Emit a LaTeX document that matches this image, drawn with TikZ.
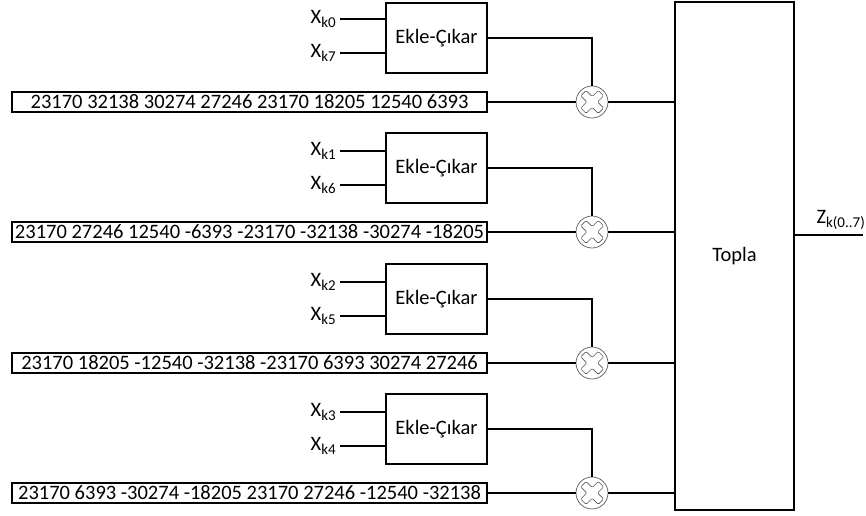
\documentclass[tikz,border=0pt]{standalone}
\usepackage{fontspec}
\setmainfont{Carlito}
\usepackage{tikz}
\usetikzlibrary{positioning, calc}
\newcommand{\blokfont}{\fontsize{20.5}{24}\selectfont}
\newcommand{\altind}[1]{\raisebox{-0.45ex}{\fontsize{15}{17}\selectfont #1}}

\begin{document}
\begin{tikzpicture}[
      x=1pt, y=-1pt,
      ekle/.style={draw, line width=1.3pt, minimum width=101pt, minimum height=70pt, inner sep=0pt, font=\blokfont},
      dizi/.style={draw, line width=1.3pt, minimum width=475pt, minimum height=20pt, inner sep=0pt, font=\blokfont},
      carp/.style={circle, draw=black!65, line width=0.7pt, minimum size=32pt, inner sep=0pt,
        path picture={\draw[black!65, line width=0.6pt, rounded corners=1.2pt]
          (path picture bounding box.center) ++(117.4:12.8) -- ++(-45:8.6) -- ++(45:8.6) -- ++(-45:7.6)
          -- ++(225:8.6) -- ++(-45:8.6) -- ++(225:7.6) -- ++(135:8.6) -- ++(225:8.6) -- ++(135:7.6)
          -- ++(45:8.6) -- ++(135:8.6) -- cycle;}},
      girdi/.style={anchor=east, inner ysep=1pt, inner xsep=4pt, font=\blokfont},
      tel/.style={line width=1.3pt},
    ]
    \useasboundingbox (0,0) rectangle (866,515);

    \node[draw, line width=1.3pt, minimum width=119pt, minimum height=508pt, font=\blokfont] (topla) at (734.5,256) {Topla};

    % 1. satir
    \node[ekle] (ec0) at (436.5,38) {Ekle-Çıkar};
    \node[girdi] (xk0) at (340,19) {X\altind{k0}};
    \node[girdi] (xk7) at (340,53) {X\altind{k7}};
    \node[carp] (m0) at (592,102) {};
    \node[dizi] (d0) at (249.5,102) {23170 32138 30274 27246 23170 18205 12540 6393};

    % 2. satir
    \node[ekle] (ec1) at (436.5,168) {Ekle-Çıkar};
    \node[girdi] (xk1) at (340,151) {X\altind{k1}};
    \node[girdi] (xk6) at (340,185) {X\altind{k6}};
    \node[carp] (m1) at (592,232) {};
    \node[dizi] (d1) at (249.5,232) {23170 27246 12540 -6393 -23170 -32138 -30274 -18205};

    % 3. satir
    \node[ekle] (ec2) at (436.5,299) {Ekle-Çıkar};
    \node[girdi] (xk2) at (340,282) {X\altind{k2}};
    \node[girdi] (xk5) at (340,316) {X\altind{k5}};
    \node[carp] (m2) at (592,363) {};
    \node[dizi] (d2) at (249.5,363) {23170 18205 -12540 -32138 -23170 6393 30274 27246};

    % 4. satir
    \node[ekle] (ec3) at (436.5,429) {Ekle-Çıkar};
    \node[girdi] (xk3) at (340,412) {X\altind{k3}};
    \node[girdi] (xk4) at (340,446) {X\altind{k4}};
    \node[carp] (m3) at (592,493) {};
    \node[dizi] (d3) at (249.5,493) {23170 6393 -30274 -18205 23170 27246 -12540 -32138};

    \coordinate (zbas) at (794,235);
    \coordinate (zson) at (863,235);
    \node[anchor=south east, inner sep=1pt, font=\blokfont] (zk) at (866,231) {Z\altind{k(0..7)}};

    \draw[tel] (xk0.east) -- (ec0.west |- xk0.east);
    \draw[tel] (xk7.east) -- (ec0.west |- xk7.east);
    \draw[tel] (ec0.east) -| (m0.north);
    \draw[tel] (d0.east) -- (m0.west);
    \draw[tel] (m0.east) -- (topla.west |- m0.east);

    \draw[tel] (xk1.east) -- (ec1.west |- xk1.east);
    \draw[tel] (xk6.east) -- (ec1.west |- xk6.east);
    \draw[tel] (ec1.east) -| (m1.north);
    \draw[tel] (d1.east) -- (m1.west);
    \draw[tel] (m1.east) -- (topla.west |- m1.east);

    \draw[tel] (xk2.east) -- (ec2.west |- xk2.east);
    \draw[tel] (xk5.east) -- (ec2.west |- xk5.east);
    \draw[tel] (ec2.east) -| (m2.north);
    \draw[tel] (d2.east) -- (m2.west);
    \draw[tel] (m2.east) -- (topla.west |- m2.east);

    \draw[tel] (xk3.east) -- (ec3.west |- xk3.east);
    \draw[tel] (xk4.east) -- (ec3.west |- xk4.east);
    \draw[tel] (ec3.east) -| (m3.north);
    \draw[tel] (d3.east) -- (m3.west);
    \draw[tel] (m3.east) -- (topla.west |- m3.east);

    \draw[tel] (zbas) -- (zson);
  \end{tikzpicture}
\end{document}
